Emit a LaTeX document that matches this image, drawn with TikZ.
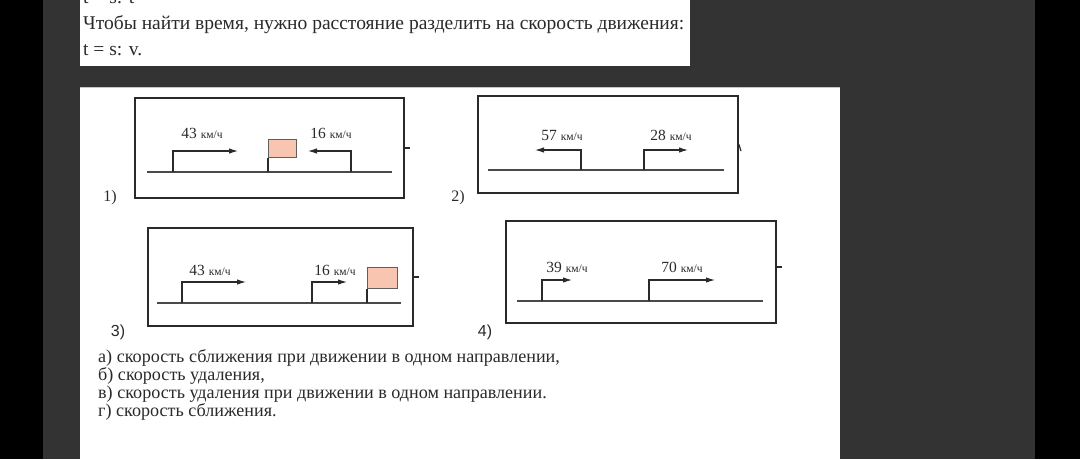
\documentclass[tikz,border=0pt]{standalone}
\usepackage{fontspec}
\setmainfont{Liberation Serif}
\newfontfamily\arialf{Liberation Sans}
\usetikzlibrary{arrows.meta}
\definecolor{bgdark}{HTML}{333333}
\definecolor{ink}{HTML}{2A2A2A}
\definecolor{flagfill}{HTML}{F8C6B0}
\tikzset{
  txt/.style={anchor=base west, inner sep=0pt, text=ink, font=\fontsize{19.5}{22}\selectfont},
  btxt/.style={anchor=base west, inner sep=0pt, text=ink, font=\fontsize{18.1}{20}\selectfont},
  frame/.style={draw=ink, line width=2pt, anchor=north west, inner sep=0pt},
  ground/.style={draw=ink!85, line width=1.6pt},
  mv/.style={draw=ink, line width=1.1pt, -{Latex[length=9pt,width=5.5pt]}},
  pole/.style={draw=ink, line width=1.1pt},
  flagbox/.style={draw=ink!75, fill=flagfill, line width=1pt, anchor=south west, minimum width=28pt, minimum height=18pt, inner sep=0pt},
  spd/.style={inner sep=0pt, text=ink, font=\fontsize{15.5}{15.5}\selectfont},
  num/.style={inner sep=0pt, text=ink, font=\fontsize{16}{16}\selectfont},
  numsans/.style={inner sep=0pt, text=ink, font=\arialf\fontsize{16}{16}\selectfont},
  tick/.style={draw=ink, line width=1.2pt}
}
\newcommand{\kmh}{{\fontsize{11.5}{11.5}\selectfont км/ч}}
\begin{document}
\begin{tikzpicture}[x=1pt,y=-1pt]
\useasboundingbox (0,0) rectangle (1080,459);
\clip (0,0) rectangle (1080,459);
\fill[black] (0,0) rectangle (1080,459);
\fill[bgdark] (43,0) rectangle (1035,459);
\fill[white] (80,0) rectangle (690,66);
\fill[white] (80,87) rectangle (840,459);
\draw[gray!45, line width=1pt] (80,87.5) -- (840,87.5);

% top text (first line is cut by the top edge, as in the source)
\node[txt] (t0) at (83,3) {t = s: t};
\node[txt] (t1) at (83,29) {Чтобы найти время, нужно расстояние разделить на скорость движения:};
\node[txt] (t2) at (83,55) {t = s: v.};

% ---------- diagram 1 ----------
\node[frame, minimum width=269pt, minimum height=100pt] (b1) at (134,97) {};
\draw[tick] (b1.east) -- ++(5,0);
\coordinate (g1l) at (147,172); \coordinate (g1r) at (392,172);
\draw[ground] (g1l) -- (g1r);
\coordinate (a1s) at (173,172); \coordinate (a1e) at (238,151);
\draw[mv] (a1s) |- (a1e);
\node[spd] (l1a) at (202,133) {43 \kmh};
\coordinate (f1p) at (268,172);
\node[flagbox] (f1) at (268,158) {};
\draw[pole] (f1p) -- (f1.south west);
\coordinate (a2s) at (351,172); \coordinate (a2e) at (308,151);
\draw[mv] (a2s) |- (a2e);
\node[spd] (l1b) at (331,133) {16 \kmh};
\node[num] (n1) at (110,198) {1)};

% ---------- diagram 2 ----------
\node[frame, minimum width=260pt, minimum height=97pt] (b2) at (477,95) {};
\coordinate (t2e) at (741,151);
\draw[tick] (b2.east) -- (t2e);
\coordinate (g2l) at (488,170); \coordinate (g2r) at (724,170);
\draw[ground] (g2l) -- (g2r);
\coordinate (a3s) at (581,170); \coordinate (a3e) at (535,150);
\draw[mv] (a3s) |- (a3e);
\node[spd] (l2a) at (562,135) {57 \kmh};
\coordinate (a4s) at (644,170); \coordinate (a4e) at (688,150);
\draw[mv] (a4s) |- (a4e);
\node[spd] (l2b) at (671,135) {28 \kmh};
\node[num] (n2) at (458,198) {2)};

% ---------- diagram 3 ----------
\node[frame, minimum width=265pt, minimum height=98pt] (b3) at (147,227) {};
\draw[tick] (b3.east) -- ++(5,0);
\coordinate (g3l) at (157,303); \coordinate (g3r) at (401,303);
\draw[ground] (g3l) -- (g3r);
\coordinate (a5s) at (182,303); \coordinate (a5e) at (246,282);
\draw[mv] (a5s) |- (a5e);
\node[spd] (l3a) at (210,270) {43 \kmh};
\coordinate (a6s) at (312,303); \coordinate (a6e) at (347,282);
\draw[mv] (a6s) |- (a6e);
\node[spd] (l3b) at (335,270) {16 \kmh};
\coordinate (f3p) at (367,303);
\node[flagbox, minimum width=30pt, minimum height=21pt] (f3) at (367,289) {};
\draw[pole] (f3p) -- (f3.south west);
\node[numsans] (n3) at (118,332) {3)};

% ---------- diagram 4 ----------
\node[frame, minimum width=270pt, minimum height=102pt] (b4) at (505,220) {};
\coordinate (t4e) at (782,267);
\draw[tick] (b4.east |- t4e) -- (t4e);
\coordinate (g4l) at (517,301); \coordinate (g4r) at (763,301);
\draw[ground] (g4l) -- (g4r);
\coordinate (a7s) at (542,301); \coordinate (a7e) at (572,280);
\draw[mv] (a7s) |- (a7e);
\node[spd] (l4a) at (567,267) {39 \kmh};
\coordinate (a8s) at (649,301); \coordinate (a8e) at (715,280);
\draw[mv] (a8s) |- (a8e);
\node[spd] (l4b) at (682,267) {70 \kmh};
\node[numsans] (n4) at (485,332) {4)};

% bottom text
\node[btxt] (q1) at (98,362) {а) скорость сближения при движении в одном направлении,};
\node[btxt] (q2) at (98,380) {б) скорость удаления,};
\node[btxt] (q3) at (98,398) {в) скорость удаления при движении в одном направлении.};
\node[btxt] (q4) at (98,416) {г) скорость сближения.};
\end{tikzpicture}
\end{document}
